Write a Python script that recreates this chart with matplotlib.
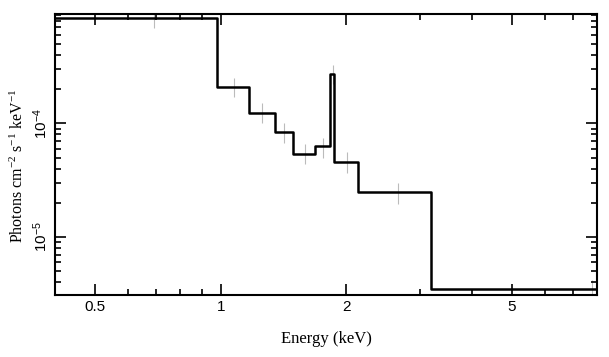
import numpy as np
import matplotlib
matplotlib.use('Agg')
import matplotlib.pyplot as plt
from matplotlib.ticker import FixedLocator, NullFormatter, FixedFormatter, LogLocator

plt.rcParams['mathtext.fontset'] = 'custom'
plt.rcParams['mathtext.rm'] = 'Liberation Serif'
plt.rcParams['mathtext.it'] = 'Liberation Serif:italic'
plt.rcParams['mathtext.sf'] = 'Liberation Sans'

# model step edges (keV) and levels (photons cm^-2 s^-1 keV^-1)
bin_edges = [0.40, 0.980, 1.168, 1.348, 1.492, 1.680, 1.831, 1.873, 2.134, 3.20, 8.0]
model_levels = [8.49e-4, 2.10e-4, 1.24e-4, 8.34e-5, 5.40e-5, 6.28e-5, 2.71e-4, 4.59e-5, 2.47e-5, 3.47e-6]

# data points (gray crosses)
data_x = [0.690, 1.075, 1.254, 1.422, 1.589, 1.758, 1.858, 2.008, 2.662, 7.79]
data_y = [8.5e-4, 2.06e-4, 1.23e-4, 8.2e-5, 5.4e-5, 6.1e-5, 2.7e-4, 4.6e-5, 2.45e-5, 3.5e-6]
data_ylo = [6.89e-4, 1.69e-4, 1.00e-4, 6.67e-5, 4.36e-5, 4.92e-5, 2.2e-4, 3.68e-5, 1.95e-5, 2.8e-6]
data_yhi = [1.01e-3, 2.52e-4, 1.50e-4, 1.00e-4, 6.58e-5, 7.47e-5, 3.26e-4, 5.63e-5, 3.00e-5, 4.19e-6]

xtick_vals = [0.5, 1, 2, 5]
xtick_labels = ['0.5', '1', '2', '5']
ytick_vals = [1e-5, 1e-4]
ytick_labels = [r'$\mathsf{10^{-5}}$', r'$\mathsf{10^{-4}}$']

fig = plt.figure(figsize=(6.09, 3.57), dpi=100)
ax = fig.add_axes([55/609, 1 - 295/357, (597 - 55)/609, (295 - 14)/357])

ax.set_xscale('log')
ax.set_yscale('log')

dy = np.array([np.array(data_y) - np.array(data_ylo), np.array(data_yhi) - np.array(data_y)])
ax.errorbar(data_x, data_y, yerr=dy, fmt='none', ecolor='#bbbbbb', elinewidth=0.8, zorder=1)

levels = model_levels + [model_levels[-1]]
ax.step(bin_edges, levels, where='post', color='black', lw=1.8, zorder=2)

ax.set_xlim(0.40, 8.0)
ax.set_ylim(3.09e-6, 9.15e-4)

ax.xaxis.set_major_locator(FixedLocator(xtick_vals))
ax.xaxis.set_major_formatter(FixedFormatter(xtick_labels))
ax.xaxis.set_minor_locator(FixedLocator([0.6, 0.7, 0.8, 0.9, 3, 4, 6, 7]))
ax.xaxis.set_minor_formatter(NullFormatter())
ax.yaxis.set_major_locator(FixedLocator(ytick_vals))
ax.yaxis.set_major_formatter(FixedFormatter(ytick_labels))
ax.yaxis.set_minor_locator(LogLocator(base=10, subs=np.arange(2, 10)))
ax.yaxis.set_minor_formatter(NullFormatter())

ax.tick_params(which='both', direction='in', top=True, right=True, width=1.2)
ax.tick_params(which='major', length=8, labelsize=11)
ax.tick_params(which='minor', length=4)
for lab in ax.get_xticklabels() + ax.get_yticklabels():
    lab.set_family('Liberation Sans')
for lab in ax.get_yticklabels():
    lab.set_rotation(90)
    lab.set_va('center')
for s in ax.spines.values():
    s.set_linewidth(1.5)

ax.set_xlabel('Energy (keV)', family='Liberation Serif', fontsize=12, labelpad=12)
ax.set_ylabel('Photons cm$^{-2}$ s$^{-1}$ keV$^{-1}$', family='Liberation Serif', fontsize=11.5)
ax.yaxis.set_label_coords(-0.052, 0.459)

fig.savefig('out.png', dpi=100)
